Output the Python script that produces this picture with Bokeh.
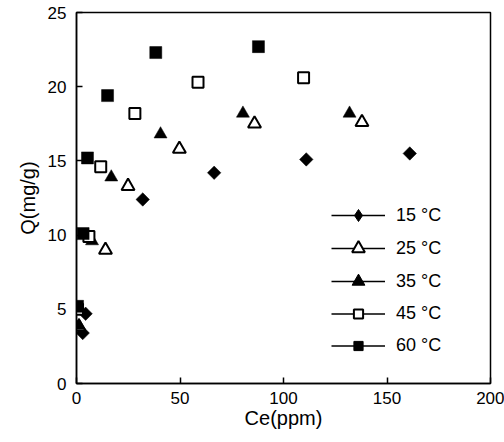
from bokeh.plotting import figure
from bokeh.models import (ColumnDataSource, Legend, LegendItem, FixedTicker, Range1d)
from bokeh.embed import file_html
from bokeh.resources import INLINE
import math

# ---- data ----
labels = ["15 °C", "25 °C", "35 °C", "45 °C", "60 °C"]
ce_15 = [3.0, 4.4, 32.0, 66.5, 111.0, 161.0]
q_15 = [3.4, 4.7, 12.4, 14.2, 15.1, 15.5]
ce_25 = [1.2, 14.0, 24.9, 49.7, 86.0, 137.9]
q_25 = [3.8, 9.0, 13.3, 15.8, 17.5, 17.6]
ce_35 = [1.2, 7.5, 16.8, 40.6, 80.4, 131.9]
q_35 = [3.9, 9.6, 13.9, 16.8, 18.2, 18.2]
ce_45 = [0.5, 6.0, 11.7, 28.2, 58.7, 109.7]
q_45 = [5.0, 9.9, 14.6, 18.2, 20.3, 20.6]
ce_60 = [0.5, 3.2, 5.3, 15.0, 38.3, 87.9]
q_60 = [5.2, 10.1, 15.2, 19.4, 22.3, 22.7]
x_ticks = [0, 50, 100, 150, 200]
y_ticks = [0, 5, 10, 15, 20, 25]

FONT = "Liberation Sans"
nan = float("nan")

p = figure(width=504, height=442, output_backend="svg", toolbar_location=None,
           x_range=Range1d(0, 200), y_range=Range1d(0, 25),
           min_border_left=76, min_border_right=14, min_border_top=12, min_border_bottom=59)
p.grid.visible = False
p.outline_line_color = "black"
p.outline_line_width = 1.5
p.background_fill_color = "white"
p.border_fill_color = "white"

for ax in (p.xaxis[0], p.yaxis[0]):
    ax.axis_line_width = 1.5
    ax.major_tick_in = 6
    ax.major_tick_out = 0
    ax.major_tick_line_width = 1.5
    ax.minor_tick_line_color = None
    ax.major_label_text_font = FONT
    ax.major_label_text_font_size = "17px"
    ax.major_label_text_color = "black"
    ax.axis_label_text_font = FONT
    ax.axis_label_text_font_size = "20px"
    ax.axis_label_text_font_style = "normal"
    ax.axis_label_text_color = "black"

p.xaxis[0].ticker = FixedTicker(ticks=x_ticks)
p.yaxis[0].ticker = FixedTicker(ticks=y_ticks)
p.xaxis[0].axis_label = "Ce(ppm)"
p.yaxis[0].axis_label = "Q(mg/g)"
p.xaxis[0].major_label_standoff = 8
p.yaxis[0].major_label_standoff = 10
p.xaxis[0].axis_label_standoff = 0
p.yaxis[0].axis_label_standoff = 6

# data markers, in legend order
p.scatter(ce_15, q_15, marker="square", angle=math.pi / 4, size=9.5,
          fill_color="black", line_color="black", line_width=0.5)
p.scatter(ce_25, q_25, marker="triangle", size=13,
          fill_color="white", line_color="black", line_width=2)
p.scatter(ce_35, q_35, marker="triangle", size=13,
          fill_color="black", line_color="black", line_width=0.5)
p.scatter(ce_45, q_45, marker="square", size=11,
          fill_color="white", line_color="black", line_width=2)
p.scatter(ce_60, q_60, marker="square", size=12,
          fill_color="black", line_color="black", line_width=0.5)

# legend-only renderers (a single NaN point, so nothing shows in the plot)
specs = [
    ("diamond", "black", 1, 30, 215),
    ("triangle", "white", 2, 32, 248),
    ("triangle", "black", 1, 32, 281),
    ("square", "white", 2, 23, 313),
    ("square", "black", 1, 23, 345),
]
frame_left, frame_bottom = 76, 383
for lab, (mk, fc, lw, gh, cy) in zip(labels, specs):
    src = ColumnDataSource(dict(x=[nan], y=[nan]))
    lr = p.line("x", "y", source=src, line_color="black", line_width=1.3)
    sr = p.scatter("x", "y", source=src, marker=mk, fill_color=fc,
                   line_color="black", line_width=lw)
    leg = Legend(items=[LegendItem(label=lab, renderers=[lr, sr])],
                 location=(331 - frame_left, frame_bottom - (cy + gh / 2)),
                 glyph_width=54, glyph_height=gh, label_standoff=11,
                 padding=0, margin=0, spacing=0,
                 border_line_color=None, background_fill_alpha=0,
                 label_text_font=FONT, label_text_font_size="18px",
                 label_text_color="black", label_height=gh)
    p.add_layout(leg, "center")

open("out.html", "w").write(file_html(p, INLINE))
